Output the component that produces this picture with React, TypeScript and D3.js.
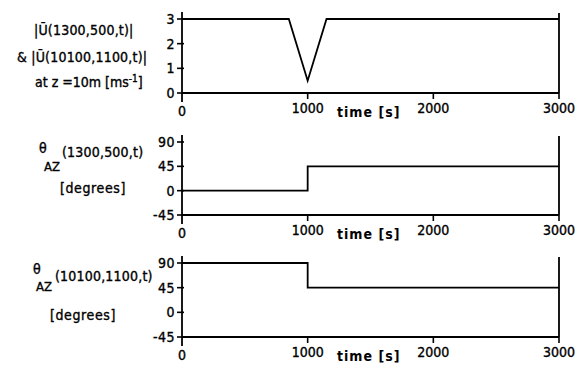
import React from "react";
import * as d3 from "d3";

// Time axis (seconds)
const timeTicks = [0, 1000, 2000, 3000];

// Wind speed magnitude at z = 10 m
const speedTime = [0, 850, 1000, 1150, 3000];
const speedValues = [3, 3, 0.5, 3, 3];
const speedTicks = [0, 1, 2, 3];

// Wind direction at (1300, 500)
const dirATime = [0, 1000, 1000, 3000];
const dirAValues = [0, 0, 45, 45];

// Wind direction at (10100, 1100)
const dirBTime = [0, 1000, 1000, 3000];
const dirBValues = [90, 90, 45, 45];

const angleTicks = [-45, 0, 45, 90];

const W = 583;
const H = 368;
const FONT = "'DejaVu Sans Condensed', 'DejaVu Sans', sans-serif";
const FS = 14;
// a thin outline thickens the glyphs a little
const INK = { stroke: "#000", strokeWidth: 0.35 };

const x = d3.scaleLinear().domain([0, 3000]).range([182, 559]);

type PanelProps = {
  yDomain: [number, number];
  yRange: [number, number];
  ticks: number[];
  tickLabels: string[];
  times: number[];
  values: number[];
  children?: React.ReactNode;
};

function Panel({ yDomain, yRange, ticks, tickLabels, times, values, children }: PanelProps) {
  const y = d3.scaleLinear().domain(yDomain).range(yRange);
  const base = y(yDomain[0]);
  const top = y(yDomain[1]);
  const line = d3
    .line<number>()
    .x((_, i) => x(times[i]))
    .y((v) => y(v));
  return (
    <g>
      {/* left axis */}
      <line x1={x(0)} x2={x(0)} y1={top - 7} y2={base + 9} stroke="#000" strokeWidth={1.8} />
      {/* right frame edge */}
      <line x1={x(3000)} x2={x(3000)} y1={top - 6} y2={base} stroke="#000" strokeWidth={1.8} />
      {/* baseline */}
      <line x1={x(0)} x2={x(3000)} y1={base} y2={base} stroke="#000" strokeWidth={1.8} />
      {ticks.map((t, i) => (
        <g key={t}>
          <line x1={x(0) - 5} x2={x(0) + 2} y1={y(t)} y2={y(t)} stroke="#000" strokeWidth={1.6} />
          <text
            x={x(0) - 7}
            y={y(t)}
            dy="0.36em"
            textAnchor="end"
            fontSize={FS}
            fontFamily={FONT}
            letterSpacing={0.5}
            {...INK}
          >
            {tickLabels[i]}
          </text>
        </g>
      ))}
      {timeTicks.slice(1).map((t) => (
        <line key={t} x1={x(t)} x2={x(t)} y1={base} y2={base + 6} stroke="#000" strokeWidth={1.6} />
      ))}
      {timeTicks.map((t) => (
        <text
          key={"l" + t}
          x={x(t)}
          y={base + (t === 0 ? 18 : 15)}
          dy="0.36em"
          textAnchor="middle"
          fontSize={FS}
          fontFamily={FONT}
          {...INK}
        >
          {String(t)}
        </text>
      ))}
      <text
        x={x(0) + 155}
        y={base + 24}
        fontSize={FS}
        fontFamily={FONT}
        fontWeight="bold"
        letterSpacing={1}
      >
        time [s]
      </text>
      <path d={line(values) ?? ""} fill="none" stroke="#000" strokeWidth={1.8} />
      {children}
    </g>
  );
}

export default function App() {
  return (
    <svg
      width={W}
      height={H}
      viewBox={`0 0 ${W} ${H}`}
      style={{ position: "absolute", left: 0, top: 0, background: "#fff" }}
    >
      <rect width={W} height={H} fill="#fff" />
      <Panel
        yDomain={[0, 3]}
        yRange={[93, 19]}
        ticks={speedTicks}
        tickLabels={speedTicks.map(String)}
        times={speedTime}
        values={speedValues}
      >
        <g fontFamily={FONT} fontSize={FS} {...INK}>
          <text x={34} y={35} letterSpacing={0.2}>|Ū(1300,500,t)|</text>
          <text x={17} y={62} letterSpacing={0.2}>& |Ū(10100,1100,t)|</text>
          <text x={35} y={87}>
            at  z =10m  [ms<tspan dy={-5} fontSize={10}>-1</tspan>
            <tspan dy={5}>]</tspan>
          </text>
        </g>
      </Panel>
      <Panel
        yDomain={[-45, 90]}
        yRange={[215, 142]}
        ticks={angleTicks}
        tickLabels={angleTicks.map(String)}
        times={dirATime}
        values={dirAValues}
      >
        <g fontFamily={FONT} fontSize={FS} {...INK}>
          <text x={39} y={153}>θ</text>
          <text x={44} y={171} fontSize={13}>AZ</text>
          <text x={62} y={157} letterSpacing={0.2}>(1300,500,t)</text>
          <text x={60} y={193} letterSpacing={0.6}>[degrees]</text>
        </g>
      </Panel>
      <Panel
        yDomain={[-45, 90]}
        yRange={[337, 263]}
        ticks={angleTicks}
        tickLabels={angleTicks.map(String)}
        times={dirBTime}
        values={dirBValues}
      >
        <g fontFamily={FONT} fontSize={FS} {...INK}>
          <text x={33} y={274}>θ</text>
          <text x={36} y={291} fontSize={13}>AZ</text>
          <text x={55} y={281} letterSpacing={0.2}>(10100,1100,t)</text>
          <text x={50} y={320} letterSpacing={0.6}>[degrees]</text>
        </g>
      </Panel>
    </svg>
  );
}
